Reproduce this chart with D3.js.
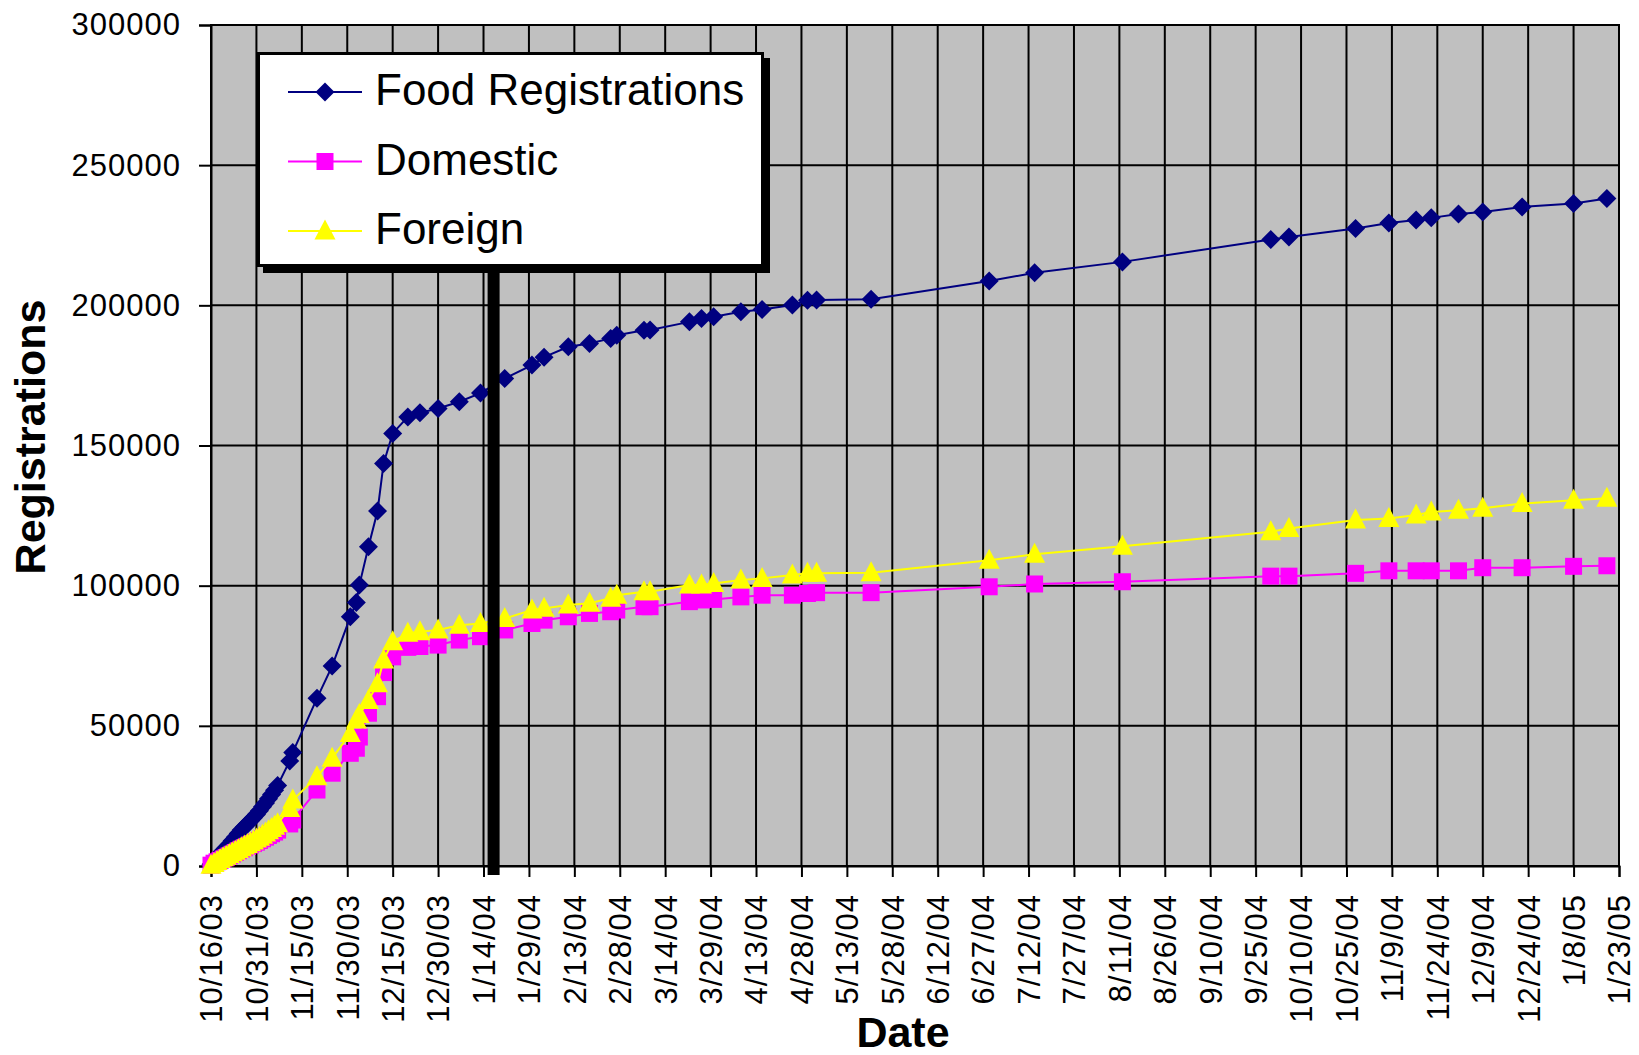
<!DOCTYPE html>
<html>
<head>
<meta charset="utf-8">
<script src="https://cdnjs.cloudflare.com/ajax/libs/d3/7.8.5/d3.min.js"></script>
<style>
	body { margin: 0; background: #fff; }
	svg { display: block; }
	svg text { font-family: "Liberation Sans", Arial, sans-serif; }
</style>
</head>
<body>
<div id="chart-area"></div>
<script>

// DATA
var dates = ["10/16/03","10/17/03","10/18/03","10/19/03","10/20/03","10/21/03","10/22/03","10/23/03",
	"10/24/03","10/25/03","10/26/03","10/27/03","10/28/03","10/29/03","10/30/03","10/31/03",
	"11/1/03","11/2/03","11/3/03","11/4/03","11/5/03","11/6/03","11/7/03","11/11/03","11/12/03",
	"11/20/03","11/25/03","12/1/03","12/3/03","12/4/03","12/7/03","12/10/03","12/12/03","12/15/03",
	"12/20/03","12/24/03","12/30/03","1/6/04","1/13/04","1/21/04","1/30/04","2/3/04","2/11/04",
	"2/18/04","2/25/04","2/27/04","3/7/04","3/9/04","3/22/04","3/26/04","3/30/04","4/8/04",
	"4/15/04","4/25/04","4/30/04","5/3/04","5/21/04","6/29/04","7/14/04","8/12/04","9/30/04",
	"10/6/04","10/28/04","11/8/04","11/17/04","11/22/04","12/1/04","12/9/04","12/22/04","1/8/05","1/19/05"]

var foodValues = [600,1900,3100,4300,5400,6500,7700,9000,
	10300,11600,12800,13900,15000,16100,17200,18400,
	19700,21100,22500,24000,25500,27000,28700,37500,40500,
	59800,71300,88900,94000,100200,113900,126600,143600,154300,
	160200,161700,163200,165600,168700,173900,178700,181500,185200,
	186400,188200,189300,191100,191200,194100,195300,195900,197700,
	198500,200100,201800,201900,202200,208700,211600,215500,223500,
	224400,227400,229400,230400,231200,232600,233300,235100,236300,238100]

var domesticValues = [300,1000,1500,2000,2500,3000,3600,4200,
	4800,5400,6000,6500,7000,7500,8000,8500,
	9100,9700,10300,10900,11500,12100,12800,15000,16400,
	27100,33100,40200,42000,46000,54500,60400,69000,74600,
	78000,78300,78800,80600,81800,84200,86500,87700,88900,
	90100,90700,91300,92500,92500,94300,94900,95100,96000,
	96600,96600,97200,97500,97500,99600,100600,101400,103400,
	103400,104400,105300,105300,105300,105300,106400,106400,106900,107100]

var foreignValues = [300,900,1600,2300,2900,3500,4100,4700,
	5300,5900,6500,7100,7700,8300,8900,9600,
	10300,11000,11800,12600,13400,14200,15100,20500,23500,
	31800,38400,47300,52100,54000,59000,65000,73500,80000,
	83000,83600,84200,85900,86500,88300,91300,91900,93100,
	93700,95500,96600,97800,97800,100200,100200,100800,102000,
	102600,103800,104400,104400,104600,109100,111200,114100,119200,
	120400,123400,124000,125200,126300,126900,127600,129300,130500,131200]

var tickDates = ["10/16/03","10/31/03","11/15/03","11/30/03","12/15/03","12/30/03","1/14/04",
	"1/29/04","2/13/04","2/28/04","3/14/04","3/29/04","4/13/04","4/28/04","5/13/04","5/28/04",
	"6/12/04","6/27/04","7/12/04","7/27/04","8/11/04","8/26/04","9/10/04","9/25/04","10/10/04",
	"10/25/04","11/9/04","11/24/04","12/9/04","12/24/04","1/8/05","1/23/05"]

var yTicks = [0, 50000, 100000, 150000, 200000, 250000, 300000]

var seriesNames = ["Food Registrations", "Domestic", "Foreign"]
var seriesColors = ["#000080", "#ff00ff", "#ffff00"]
var seriesMarkers = ["diamond", "square", "triangle"]

// thick black marker line drawn on the chart
var barDate = "1/17/04"

//SVG Making with margins
var margin = {left:211, right:20, top:25, bottom:189}
var width = 1639 - margin.left - margin.right
var height = 1055 - margin.top - margin.bottom

var parseDate = d3.timeParse("%m/%d/%y")

var svg = d3.select('#chart-area').append('svg')
	.attr('width', 1639)
	.attr('height', 1055)

var group = svg.append('g')
	.attr('transform', 'translate(' + margin.left + ',' + margin.top + ')')

//1. scales
var xScale = d3.scaleTime()
	.domain([parseDate(tickDates[0]), parseDate(tickDates[tickDates.length - 1])])
	.range([0, width])

var yScale = d3.scaleLinear()
	.domain([0, 300000])
	.range([height, 0])

//2. plot background
group.append('rect')
	.attr('width', width)
	.attr('height', height)
	.attr('fill', '#c0c0c0')

//3. gridlines
group.selectAll('.vgrid')
	.data(tickDates)
	.enter()
	.append('line')
	.attr('x1', d => xScale(parseDate(d)))
	.attr('x2', d => xScale(parseDate(d)))
	.attr('y1', 0)
	.attr('y2', height)
	.attr('stroke', '#000')
	.attr('stroke-width', 2)

group.selectAll('.hgrid')
	.data(yTicks)
	.enter()
	.append('line')
	.attr('x1', 0)
	.attr('x2', width)
	.attr('y1', d => yScale(d))
	.attr('y2', d => yScale(d))
	.attr('stroke', '#000')
	.attr('stroke-width', 2)

group.append('rect')
	.attr('width', width)
	.attr('height', height)
	.attr('fill', 'none')
	.attr('stroke', '#000')
	.attr('stroke-width', 2)

//4. axes
var xAxis = d3.axisBottom(xScale)
	.tickValues(tickDates.map(parseDate))
	.tickFormat((d, i) => tickDates[i])
	.tickSize(11)

var xAxisGroup = group.append('g')
	.attr('transform', 'translate(0,' + height + ')')
	.call(xAxis)

xAxisGroup.select('.domain').attr('stroke-width', 2)
xAxisGroup.selectAll('.tick line').attr('stroke-width', 2)
xAxisGroup.selectAll('.tick text')
	.attr('font-size', '31px')
	.attr('fill', '#000')
	.attr('letter-spacing', '1px')
	.attr('transform', 'rotate(-90)')
	.attr('text-anchor', 'end')
	.attr('x', -28)
	.attr('y', 0)
	.attr('dy', '0.35em')

var yAxis = d3.axisLeft(yScale)
	.tickValues(yTicks)
	.tickFormat(d3.format('d'))
	.tickSize(12)
	.tickPadding(18)

var yAxisGroup = group.append('g')
	.call(yAxis)

yAxisGroup.select('.domain').attr('stroke-width', 2)
yAxisGroup.selectAll('.tick line').attr('stroke-width', 2)
yAxisGroup.selectAll('.tick text')
	.attr('font-size', '31px')
	.attr('fill', '#000')
	.attr('letter-spacing', '1px')

//5. axis titles
group.append('text')
	.attr('x', 692)
	.attr('y', height + 181)
	.attr('font-size', '43px')
	.attr('font-weight', 'bold')
	.attr('text-anchor', 'middle')
	.attr('fill', 'black')
	.text('Date')

group.append('text')
	.attr('transform', 'rotate(-90)')
	.attr('x', -(437 - margin.top))
	.attr('y', -166)
	.attr('font-size', '43px')
	.attr('font-weight', 'bold')
	.attr('text-anchor', 'middle')
	.attr('fill', 'black')
	.text('Registrations')

//6. marker shapes
function markerPath(type) {
	if (type == 'diamond') return 'M0,-9.5L9.5,0L0,9.5L-9.5,0Z'
	if (type == 'square') return 'M-8.5,-8.5L8.5,-8.5L8.5,8.5L-8.5,8.5Z'
	return 'M0,-11.5L10.5,8.5L-10.5,8.5Z'
}

//7. the three series
var seriesValues = [foodValues, domesticValues, foreignValues]

var line = d3.line()
	.x(d => xScale(d.date))
	.y(d => yScale(d.value))

seriesValues.forEach(function(values, s) {
	var points = dates.map(function(d, i) {
		return {date: parseDate(d), value: values[i]}
	})

	group.append('path')
		.datum(points)
		.attr('d', line)
		.attr('fill', 'none')
		.attr('stroke', seriesColors[s])
		.attr('stroke-width', 2)

	group.append('g').selectAll('path')
		.data(points)
		.enter()
		.append('path')
		.attr('transform', d => 'translate(' + xScale(d.date) + ',' + yScale(d.value) + ')')
		.attr('d', markerPath(seriesMarkers[s]))
		.attr('fill', seriesColors[s])
})

//8. thick black bar
group.append('rect')
	.attr('x', xScale(parseDate(barDate)) - 5)
	.attr('y', 230)
	.attr('width', 12)
	.attr('height', height - 230 + 9)
	.attr('fill', '#000')

//9. LEGEND
var legend_group = svg.append('g')
	.attr('transform', 'translate(257,52)')

legend_group.append('rect')
	.attr('x', 6)
	.attr('y', 6)
	.attr('width', 507)
	.attr('height', 215)
	.attr('fill', '#000')

legend_group.append('rect')
	.attr('x', 1.5)
	.attr('y', 1.5)
	.attr('width', 504)
	.attr('height', 212)
	.attr('fill', '#fff')
	.attr('stroke', '#000')
	.attr('stroke-width', 3)

var legendRows = legend_group.selectAll('.row')
	.data(seriesNames)
	.enter()
	.append('g')
	.attr('transform', (d, i) => 'translate(0,' + (40 + 69.5 * i) + ')')

legendRows.append('line')
	.attr('x1', 31)
	.attr('x2', 105)
	.attr('stroke', (d, i) => seriesColors[i])
	.attr('stroke-width', 2)

legendRows.append('path')
	.attr('transform', 'translate(68,0)')
	.attr('d', (d, i) => markerPath(seriesMarkers[i]))
	.attr('fill', (d, i) => seriesColors[i])

legendRows.append('text')
	.attr('x', 118)
	.attr('y', 13)
	.attr('font-size', '44px')
	.attr('fill', '#000')
	.text(d => d)

</script>
</body>
</html>
